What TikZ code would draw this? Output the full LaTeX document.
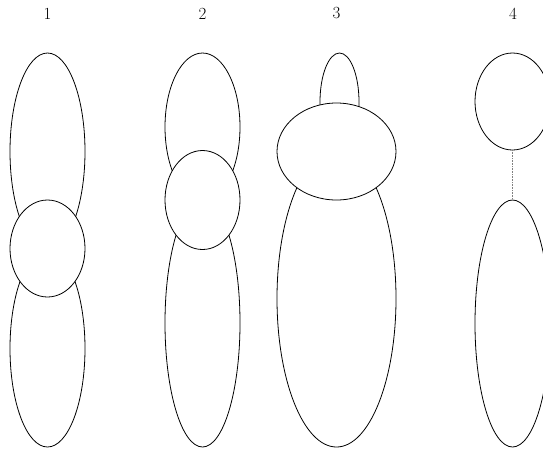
\documentclass[tikz,border=0pt]{standalone}
\usetikzlibrary{shapes.geometric}
\begin{document}
\begin{tikzpicture}[x=1pt,y=-1pt,
  blob/.style={ellipse,draw=black,fill=white,line width=0.8pt,inner sep=0pt,outer sep=0pt},
  lbl/.style={font=\fontsize{17}{20}\selectfont,inner sep=0pt}]
\useasboundingbox (0,0) rectangle (543,451);
% labels
\node[lbl] (l1) at (47.5,13.5) {1};
\node[lbl] (l2) at (202.5,13.5) {2};
\node[lbl] (l3) at (336.5,13.5) {3};
\node[lbl] (l4) at (513,13.5) {4};
% column 1
\node[blob,minimum width=75pt,minimum height=197pt] (a1) at (47.5,151.5) {};
\node[blob,minimum width=75pt,minimum height=197pt] (a3) at (47.5,348.5) {};
\node[blob,minimum width=75pt,minimum height=97pt] (a2) at (47.5,248.5) {};
% column 2
\node[blob,minimum width=75pt,minimum height=148pt] (b1) at (202.5,127) {};
\node[blob,minimum width=75pt,minimum height=248pt] (b3) at (202.5,323) {};
\node[blob,minimum width=75pt,minimum height=99pt] (b2) at (202.5,200) {};
% column 3
\node[blob,minimum width=39pt,minimum height=98pt] (c1) at (339.5,102) {};
\node[blob,minimum width=119pt,minimum height=297pt] (c3) at (336.5,298.5) {};
\node[blob,minimum width=119pt,minimum height=97pt] (c2) at (336.5,151.5) {};
% column 4
\node[blob,minimum width=75pt,minimum height=97pt] (d1) at (512.5,101.5) {};
\node[blob,minimum width=75pt,minimum height=247pt] (d2) at (512.5,323.5) {};
\draw[gray,densely dotted,line width=0.6pt] (d1.south) -- (d2.north);
\end{tikzpicture}
\end{document}
